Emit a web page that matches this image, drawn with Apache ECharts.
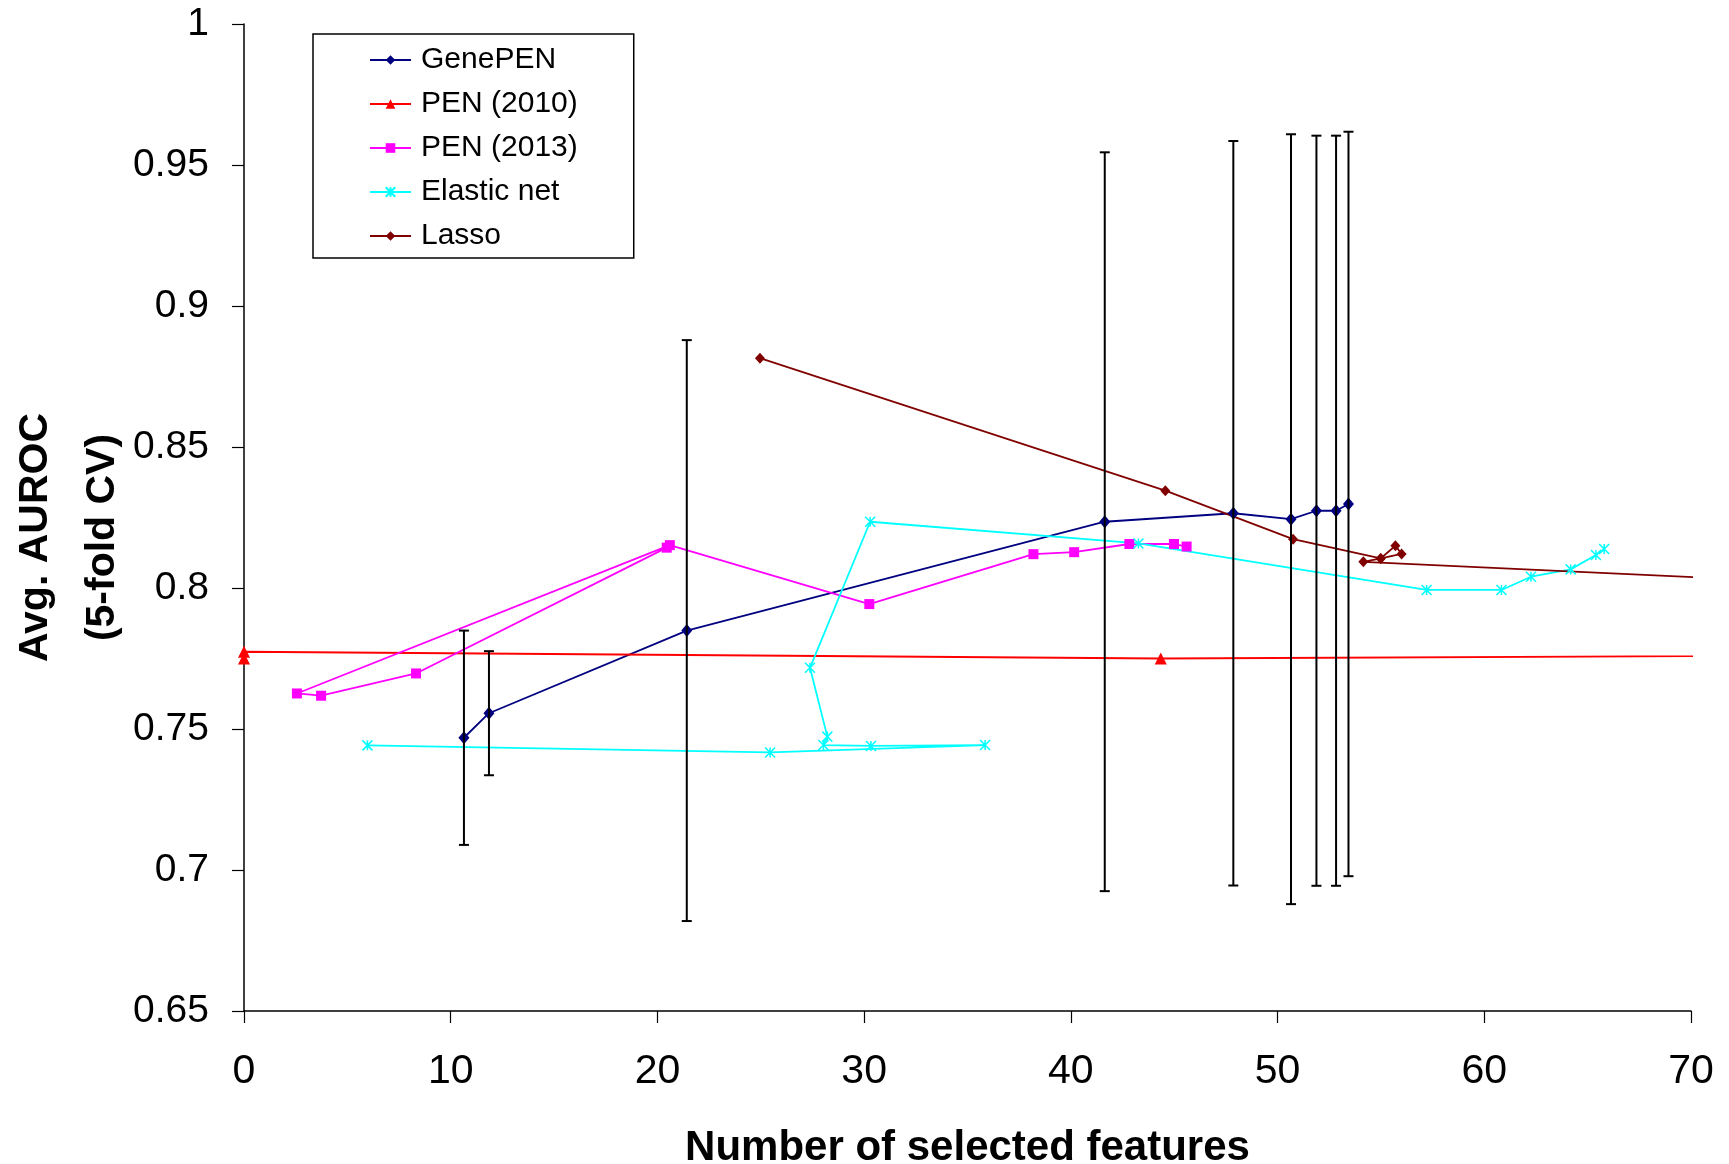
<!DOCTYPE html>
<html>
<head>
<meta charset="utf-8">
<script src="https://cdn.jsdelivr.net/npm/echarts@6/dist/echarts.min.js"></script>
<style>
  html, body { margin: 0; padding: 0; background: #fff; }
  #chart { width: 1729px; height: 1164px; }
</style>
</head>
<body>
<div id="chart"></div>
<script>
// values
const genePenX = [10.64, 11.85, 21.42, 41.64, 47.86, 50.65, 51.88, 52.83, 53.43]
const genePenY = [0.7469, 0.7556, 0.7849, 0.8235, 0.8265, 0.8244, 0.8274, 0.8274, 0.8298]
const genePenErr = [0.038, 0.022, 0.103, 0.131, 0.132, 0.1365, 0.133, 0.133, 0.132]

const pen2010X = [0, 0, 44.35, 110]
const pen2010Y = [0.775, 0.7774, 0.775, 0.7772]

const pen2013X = [20.45, 8.32, 3.73, 2.56, 20.6, 30.25, 38.19, 40.16, 42.83, 44.99, 45.6]
const pen2013Y = [0.8143, 0.7697, 0.7618, 0.7626, 0.8152, 0.7943, 0.812, 0.8127, 0.8156, 0.8156, 0.8147]

const elasticX = [5.97, 25.45, 35.85, 30.33, 28.03, 28.22, 27.38, 30.29, 43.27, 57.21, 60.83, 62.26, 64.18, 65.4, 65.8]
const elasticY = [0.7442, 0.7417, 0.7443, 0.744, 0.7443, 0.7473, 0.7717, 0.8235, 0.8158, 0.7993, 0.7993, 0.804, 0.8066, 0.8117, 0.8138]

const lassoX = [24.96, 44.57, 50.75, 54.99, 55.7, 56.0, 54.99, 54.15, 90]
const lassoY = [0.8815, 0.8345, 0.8173, 0.8105, 0.815, 0.8121, 0.8105, 0.8093, 0.797]

const seriesNames = ['GenePEN', 'PEN (2010)', 'PEN (2013)', 'Elastic net', 'Lasso']

const xMin = 0, xMax = 70, xStep = 10
const yMin = 0.65, yMax = 1, yStep = 0.05

const pairs = (xs, ys) => xs.map((x, i) => [x, ys[i]])

const lineSeries = (name, xs, ys, color, symbol, size, extra) => Object.assign({
  name: name,
  type: 'line',
  data: pairs(xs, ys),
  symbol: symbol,
  symbolSize: size,
  showAllSymbol: true,
  clip: true,
  z: 3,
  lineStyle: { color: color, width: 1.8 },
  itemStyle: { color: color }
}, extra || {})

const chart = echarts.init(document.getElementById('chart'))

chart.setOption({
  animation: false,
  backgroundColor: '#fff',
  grid: { left: 244, top: 24, width: 1447, height: 987, outerBoundsMode: 'none', containLabel: false },
  legend: {
    data: seriesNames,
    orient: 'vertical',
    left: 313,
    top: 34,
    padding: [11, 56, 7, 56],
    itemGap: 14,
    itemWidth: 41,
    itemHeight: 12,
    borderColor: '#000',
    borderWidth: 1.5,
    textStyle: { fontFamily: 'Liberation Sans', fontSize: 30, color: '#000', padding: [0, 0, 0, 5] }
  },
  xAxis: {
    type: 'value',
    min: xMin, max: xMax, interval: xStep,
    name: 'Number of selected features',
    nameLocation: 'middle',
    nameGap: 116,
    nameMoveOverlap: false,
    nameTextStyle: { fontFamily: 'Liberation Sans', fontWeight: 'bold', fontSize: 42, color: '#000' },
    axisLine: { onZero: false, lineStyle: { color: '#000', width: 1.5 } },
    axisTick: { length: 12, lineStyle: { color: '#000', width: 1.2 } },
    axisLabel: { margin: 40, fontFamily: 'Liberation Sans', fontSize: 41, color: '#000' },
    splitLine: { show: false }
  },
  yAxis: {
    type: 'value',
    min: yMin, max: yMax, interval: yStep,
    name: 'Avg. AUROC\n(5-fold CV)',
    nameLocation: 'middle',
    nameRotate: 90,
    nameGap: 108,
    nameMoveOverlap: false,
    nameTextStyle: {
      fontFamily: 'Liberation Sans', fontWeight: 'bold', fontSize: 41, lineHeight: 67, color: '#000',
      padding: [0, 40, 0, 0]
    },
    axisLine: { onZero: false, lineStyle: { color: '#000', width: 1.5 } },
    axisTick: { length: 12, lineStyle: { color: '#000', width: 1.2 } },
    axisLabel: { margin: 35, fontFamily: 'Liberation Sans', fontSize: 39, color: '#000' },
    splitLine: { show: false }
  },
  series: [
    lineSeries(seriesNames[0], genePenX, genePenY, '#000080', 'diamond', [11, 13]),
    lineSeries(seriesNames[1], pen2010X, pen2010Y, '#FF0000', 'triangle', 12),
    lineSeries(seriesNames[2], pen2013X, pen2013Y, '#FF00FF', 'rect', 10),
    lineSeries(seriesNames[3], elasticX, elasticY, '#00FFFF', 'path://M0,0L10,10M10,0L0,10M5,0L5,10', 10, {
      itemStyle: { color: '#00FFFF', borderColor: '#00FFFF', borderWidth: 1.5 }
    }),
    lineSeries(seriesNames[4], lassoX, lassoY, '#800000', 'diamond', [10, 11]),
    {
      // GenePEN error bars
      type: 'custom',
      name: 'GenePEN error',
      z: 4,
      silent: true,
      data: genePenX.map((x, i) => [x, genePenY[i], genePenErr[i]]),
      encode: { x: 0, y: 1 },
      renderItem: function (params, api) {
        const x = api.value(0)
        const y = api.value(1)
        const e = api.value(2)
        const hi = api.coord([x, y + e])
        const lo = api.coord([x, y - e])
        const cap = 5
        const style = { stroke: '#000', lineWidth: 2 }
        return {
          type: 'group',
          children: [
            { type: 'line', shape: { x1: hi[0], y1: hi[1], x2: lo[0], y2: lo[1] }, style: style },
            { type: 'line', shape: { x1: hi[0] - cap, y1: hi[1], x2: hi[0] + cap, y2: hi[1] }, style: style },
            { type: 'line', shape: { x1: lo[0] - cap, y1: lo[1], x2: lo[0] + cap, y2: lo[1] }, style: style }
          ]
        }
      }
    }
  ]
})
</script>
</body>
</html>
